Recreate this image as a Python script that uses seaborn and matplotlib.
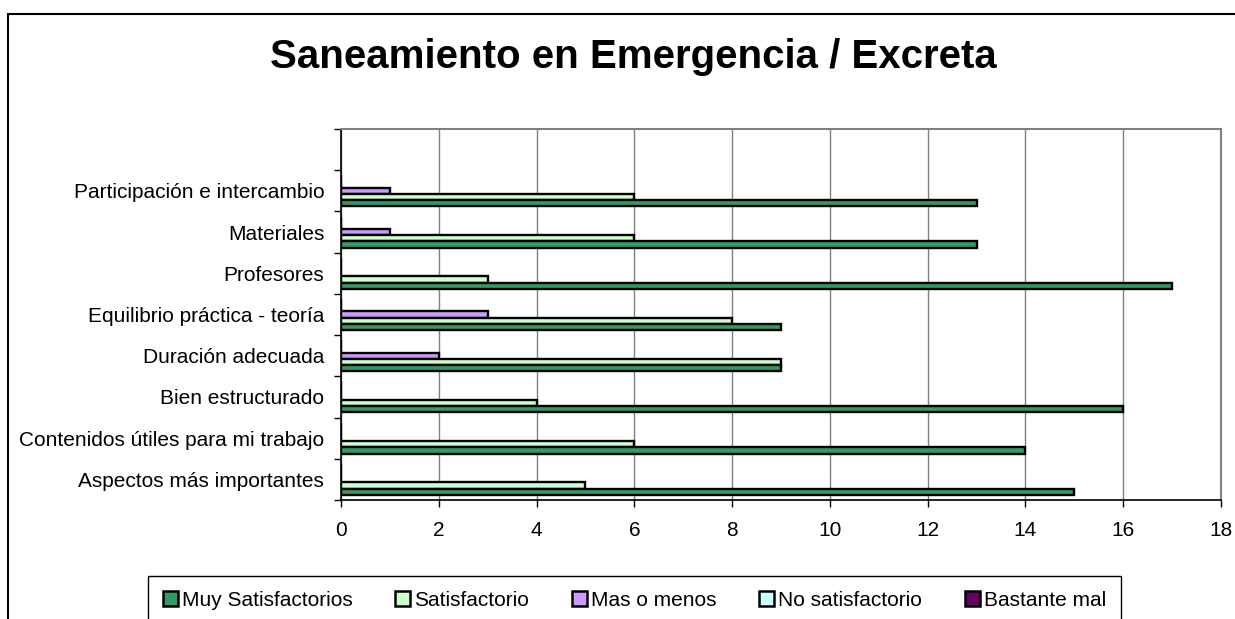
import matplotlib
matplotlib.use("Agg")
import matplotlib.pyplot as plt
import seaborn as sns
import pandas as pd
from matplotlib.patches import Patch
from matplotlib.lines import Line2D

categories = [
    "Participación e intercambio",
    "Materiales",
    "Profesores",
    "Equilibrio práctica - teoría",
    "Duración adecuada",
    "Bien estructurado",
    "Contenidos útiles para mi trabajo",
    "Aspectos más importantes",
]
series_names = ["Muy Satisfactorios", "Satisfactorio", "Mas o menos",
                "No satisfactorio", "Bastante mal"]
muy_satisfactorios = [13, 13, 17, 9, 9, 16, 14, 15]
satisfactorio = [6, 6, 3, 8, 9, 4, 6, 5]
mas_o_menos = [1, 1, 0, 3, 2, 0, 0, 0]
no_satisfactorio = [0, 0, 0, 0, 0, 0, 0, 0]
bastante_mal = [0, 0, 0, 0, 0, 0, 0, 0]
colors = ["#339966", "#CCFFCC", "#CC99FF", "#CCFFFF", "#660066"]
x_ticks = [0, 2, 4, 6, 8, 10, 12, 14, 16, 18]

values = [muy_satisfactorios, satisfactorio, mas_o_menos, no_satisfactorio, bastante_mal]
rows = []
for name, vals in zip(series_names, values):
    for c, v in zip(categories, vals):
        rows.append({"category": c, "series": name, "value": v})
df = pd.DataFrame(rows)

sns.set_theme(style="white")
plt.rcParams["font.family"] = ["Liberation Sans", "DejaVu Sans"]
plt.rcParams["text.color"] = "black"
plt.rcParams["xtick.color"] = "black"
plt.rcParams["ytick.color"] = "black"

W, H = 1235, 619
fig = plt.figure(figsize=(W / 100, H / 100), dpi=100)
ax = fig.add_axes([341 / W, 1 - 500 / H, (1221 - 341) / W, (500 - 129) / H])

pal = dict(zip(series_names, colors))
sns.barplot(data=df, x="value", y="category", hue="series",
            hue_order=series_names[::-1], order=categories,
            palette=pal, width=0.75, edgecolor="black", linewidth=1.7,
            orient="h", ax=ax, legend=False, saturation=1)

ax.set_ylim(len(categories) - 0.5, -1.5)
ax.set_xlim(0, 18)
ax.set_xticks(x_ticks)
ax.set_xticklabels([str(t) for t in x_ticks], fontsize=15, color="black")
ax.set_yticks(range(len(categories)))
ax.set_yticklabels(categories, fontsize=15, color="black")
ax.set_yticks([i - 0.5 for i in range(-1, len(categories) + 1)], minor=True)
ax.tick_params(axis="y", which="major", length=0, pad=12)
ax.tick_params(axis="y", which="minor", length=5, width=1, color="black", left=True)
ax.tick_params(axis="x", which="major", length=5, width=1, color="black", bottom=True, pad=10)
ax.set_xlabel("")
ax.set_ylabel("")
ax.xaxis.grid(True, color="#808080", linewidth=1)
ax.yaxis.grid(False)
ax.set_axisbelow(True)
for s in ["top", "right"]:
    ax.spines[s].set_color("#808080")
    ax.spines[s].set_linewidth(1.5)
for s in ["left", "bottom"]:
    ax.spines[s].set_color("black")
    ax.spines[s].set_linewidth(1.2)

fig.text(633 / W, 1 - 57 / H, "Saneamiento en Emergencia / Excreta",
         ha="center", va="center", fontsize=29, fontweight="bold", color="black")

# outer chart frame
fig.add_artist(Line2D([8 / W, 8 / W], [1 - 14 / H, -0.1], color="black", lw=1.5,
                      transform=fig.transFigure))
fig.add_artist(Line2D([8 / W, 1.1], [1 - 14 / H, 1 - 14 / H], color="black", lw=1.5,
                      transform=fig.transFigure))

handles = [Patch(facecolor=c, edgecolor="black", linewidth=1.8) for c in colors]
leg = fig.legend(handles, series_names, loc="upper left",
                 bbox_to_anchor=(148 / W, 1 - 576 / H), ncol=5, fontsize=15,
                 frameon=True, fancybox=False, edgecolor="black", framealpha=1,
                 handlelength=0.72, handleheight=0.72, handletextpad=0.2,
                 columnspacing=2.05, borderpad=0.7, borderaxespad=0)
leg.get_frame().set_linewidth(1)

fig.savefig("out.png", dpi=100)
